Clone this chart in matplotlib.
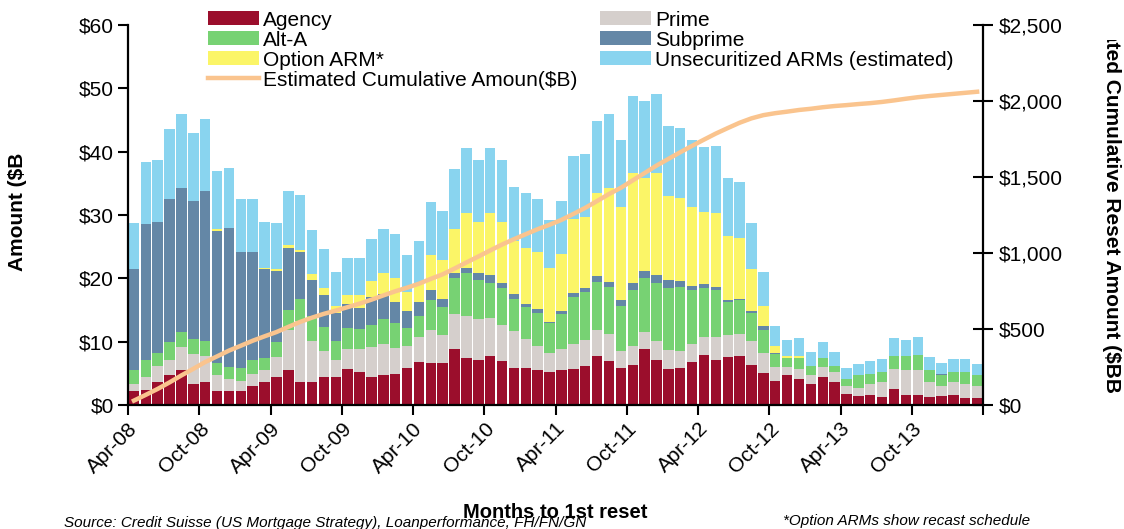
import matplotlib.pyplot as plt
import numpy as np
from matplotlib.transforms import Bbox, TransformedBbox

plt.rcParams['font.family'] = ['Liberation Sans', 'DejaVu Sans']

# monthly ARM reset amounts ($B), Apr-08 .. Mar-14
agency = [2.2, 2.4, 3.6, 4.7, 5.5, 3.3, 3.6, 2.2, 2.2, 2.2, 3.0, 3.6,
          4.4, 5.5, 3.6, 3.6, 4.4, 4.4, 5.7, 5.2, 4.4, 4.7, 4.9, 5.8,
          6.8, 6.6, 6.6, 8.8, 7.4, 7.1, 7.7, 6.9, 5.8, 5.8, 5.5, 5.2,
          5.5, 5.7, 6.2, 7.7, 6.9, 5.8, 6.3, 8.8, 7.1, 5.7, 5.8, 6.8,
          7.9, 7.1, 7.6, 7.7, 6.3, 5.1, 3.8, 4.7, 4.1, 3.3, 4.4, 3.6,
          1.7, 1.4, 1.6, 1.3, 2.5, 1.6, 1.6, 1.3, 1.4, 1.6, 1.1, 1.1]
prime = [1.1, 2.0, 2.6, 2.4, 3.7, 4.8, 4.1, 2.5, 1.9, 1.6, 1.9, 1.9,
         3.2, 6.3, 9.7, 6.5, 4.1, 2.7, 3.1, 3.6, 4.8, 4.9, 4.1, 3.5,
         3.9, 5.2, 4.5, 5.6, 6.7, 6.5, 6.0, 5.7, 5.9, 4.6, 3.8, 3.0,
         3.3, 3.9, 4.1, 4.1, 4.3, 2.7, 3.0, 2.7, 3.0, 3.0, 2.7, 2.8,
         2.8, 3.6, 3.5, 3.5, 3.8, 3.1, 2.2, 1.3, 1.6, 1.4, 1.6, 1.6,
         1.3, 1.3, 1.7, 2.3, 3.2, 3.9, 3.9, 2.3, 1.6, 2.0, 2.2, 1.9]
alt_a = [2.2, 2.7, 2.0, 2.8, 2.3, 2.3, 2.4, 1.9, 1.9, 2.0, 2.2, 1.9,
         2.3, 3.2, 3.4, 4.0, 3.8, 3.0, 3.4, 3.2, 3.4, 4.0, 3.9, 2.9,
         3.4, 4.8, 4.4, 5.7, 6.8, 6.1, 5.6, 5.9, 5.0, 5.1, 5.2, 4.7,
         5.6, 7.5, 7.5, 7.6, 7.4, 7.1, 8.9, 8.6, 9.2, 9.8, 10.1, 8.6,
         7.8, 7.5, 5.2, 5.4, 4.4, 3.6, 2.1, 1.4, 1.7, 1.5, 1.4, 1.0,
         1.1, 2.0, 1.6, 1.6, 2.0, 2.2, 2.4, 1.9, 1.7, 1.6, 1.9, 1.7]
subprime = [16.0, 21.5, 20.7, 22.6, 22.8, 21.8, 23.7, 20.9, 21.9, 18.4, 17.1, 14.1,
            11.3, 9.8, 7.5, 5.6, 5.1, 4.4, 3.7, 3.3, 4.5, 3.9, 3.4, 2.6,
            2.2, 1.6, 1.2, 0.7, 0.7, 1.1, 1.2, 0.8, 0.8, 0.4, 0.7, 0.2,
            0.4, 0.6, 0.7, 1.0, 0.8, 1.0, 1.1, 1.1, 1.2, 1.2, 1.0, 0.6,
            0.6, 0.4, 0.3, 0.1, 0.3, 0.7, 0.1, 0.0, 0.0, 0.0, 0.0, 0.0,
            0.0, 0.0, 0.0, 0.0, 0.0, 0.0, 0.0, 0.0, 0.2, 0.0, 0.0, 0.0]
option_arm = [0.0, 0.0, 0.0, 0.0, 0.0, 0.0, 0.0, 0.3, 0.0, 0.0, 0.0, 0.1,
              0.3, 0.5, 0.3, 1.0, 1.1, 1.1, 1.5, 2.1, 2.5, 3.3, 3.8, 3.0,
              3.0, 5.5, 6.2, 7.0, 8.7, 8.1, 9.8, 9.6, 8.4, 8.9, 9.0, 8.5,
              9.0, 11.7, 11.2, 13.1, 14.9, 14.7, 17.3, 14.6, 16.1, 13.3, 13.1, 12.5,
              11.4, 11.7, 10.1, 9.7, 6.7, 3.1, 1.1, 0.3, 0.3, 0.0, 0.0, 0.0,
              0.0, 0.0, 0.0, 0.0, 0.0, 0.0, 0.0, 0.0, 0.0, 0.0, 0.0, 0.0]
unsecuritized = [7.2, 9.8, 9.8, 11.1, 11.6, 10.7, 11.4, 9.1, 9.5, 8.3, 8.3, 7.3,
                 7.2, 8.5, 8.7, 6.9, 6.1, 5.4, 5.8, 5.8, 6.6, 7.0, 6.9, 5.9,
                 6.6, 8.4, 7.7, 9.5, 10.3, 9.8, 10.3, 9.8, 8.5, 8.7, 8.3, 7.6,
                 8.4, 9.9, 9.9, 11.3, 11.6, 10.5, 12.2, 12.2, 12.5, 11.1, 11.0, 10.5,
                 10.2, 10.6, 9.1, 8.8, 7.2, 5.4, 3.2, 2.6, 2.9, 2.2, 2.5, 2.2,
                 1.7, 1.8, 2.0, 2.1, 2.9, 2.6, 2.8, 2.1, 1.7, 2.1, 2.1, 1.8]
# estimated cumulative amount ($B), right axis
cumulative = [29, 67, 106, 149, 195, 238, 283, 320, 358, 390, 423, 452,
              480, 514, 547, 575, 600, 621, 644, 667, 693, 721, 748, 772,
              798, 830, 860, 898, 938, 977, 1017, 1056, 1091, 1124, 1157, 1186,
              1218, 1257, 1297, 1342, 1388, 1429, 1478, 1526, 1575, 1619, 1663, 1705,
              1746, 1786, 1822, 1857, 1886, 1907, 1920, 1930, 1941, 1949, 1959, 1967,
              1973, 1980, 1986, 1994, 2004, 2015, 2025, 2033, 2040, 2047, 2054, 2061]
tick_labels = ['Apr-08', 'Oct-08', 'Apr-09', 'Oct-09', 'Apr-10', 'Oct-10',
               'Apr-11', 'Oct-11', 'Apr-12', 'Oct-12', 'Apr-13', 'Oct-13', '']
left_ticks = [0, 10, 20, 30, 40, 50, 60]
right_ticks = [0, 500, 1000, 1500, 2000, 2500]

fig = plt.figure(figsize=(11.24, 5.29), dpi=100)
ax = fig.add_axes([0.1139, 0.2344, 0.7607, 0.7183])

x = np.arange(len(agency))
bottom = np.zeros(len(x))
series = [(agency, '#9B0E2C', 'Agency'),
          (prime, '#D5CFCC', 'Prime'),
          (alt_a, '#77D273', 'Alt-A'),
          (subprime, '#6487A6', 'Subprime'),
          (option_arm, '#FBF567', 'Option ARM*'),
          (unsecuritized, '#89D4EF', 'Unsecuritized ARMs (estimated)')]
bars = {}
for vals, col, name in series:
    bars[name] = ax.bar(x, vals, 0.88, bottom=bottom, color=col, linewidth=0, label=name)
    bottom += np.array(vals)

ax.set_xlim(-0.5, len(x) - 0.5)
ax.set_ylim(0, 60)
ax.set_yticks(left_ticks)
ax.set_yticklabels([f'${v}' for v in left_ticks], fontsize=15)
ax.set_xticks(np.arange(-0.5, len(x), 6))
ax.set_xticklabels(tick_labels, rotation=45, ha='right', va='top',
                   rotation_mode='anchor', fontsize=15)
ax.tick_params(axis='both', direction='out', length=7, width=1.5, pad=3)
for s in ['left', 'bottom']:
    ax.spines[s].set_linewidth(1.6)
ax.spines['top'].set_visible(False)
ax.spines['right'].set_visible(False)

ax2 = ax.twinx()
line, = ax2.plot(x, cumulative, color='#FAC48E', lw=3.2,
                 label='Estimated Cumulative Amoun($B)')
ax2.set_ylim(0, 2500)
ax2.set_yticks(right_ticks)
ax2.set_yticklabels([f'${v:,}' for v in right_ticks], fontsize=15)
ax2.tick_params(axis='y', direction='inout', length=14, width=1.5, pad=4)
ax2.spines['right'].set_linewidth(1.6)
ax2.spines['top'].set_visible(False)
ax2.spines['left'].set_visible(False)
ax2.spines['bottom'].set_visible(False)

order = ['Agency', 'Alt-A', 'Option ARM*']
hs = [bars[n] for n in order] + [line] + [bars['Prime'], bars['Subprime'],
                                          bars['Unsecuritized ARMs (estimated)']]
labs = order + ['Estimated Cumulative Amoun($B)', 'Prime', 'Subprime',
                'Unsecuritized ARMs (estimated)']
fig.legend(hs, labs, loc='upper left', bbox_to_anchor=(0.181, 0.988), ncol=2,
           frameon=False, fontsize=15, handlelength=2.45, handleheight=0.67,
           handletextpad=0.2, labelspacing=0.05, columnspacing=1.1,
           borderaxespad=0, borderpad=0.2)

fig.text(0.016, 0.6, 'Amount ($B', rotation=90, ha='center', va='center',
         fontsize=15, fontweight='bold')
# right axis title is cut by the chart frame in the original
rt = fig.text(0.989, 0.654, 'Estimated Cumulative Reset Amount ($BB', rotation=270,
              ha='center', va='center', fontsize=15, fontweight='bold')
rt.set_clip_box(TransformedBbox(Bbox([[0, 0], [1, 1 - 40 / 529]]), fig.transFigure))
rt.set_clip_on(True)
fig.text(0.494, 0.032, 'Months to 1st reset', ha='center', va='center',
         fontsize=14.5, fontweight='bold')
fig.text(0.057, 0.012, 'Source: Credit Suisse (US Mortgage Strategy), Loanperformance, FH/FN/GN',
         ha='left', va='center', fontsize=11, style='italic')
fig.text(0.697, 0.016, '*Option ARMs show recast schedule', ha='left', va='center',
         fontsize=11, style='italic')

fig.savefig('out.png', dpi=100)
